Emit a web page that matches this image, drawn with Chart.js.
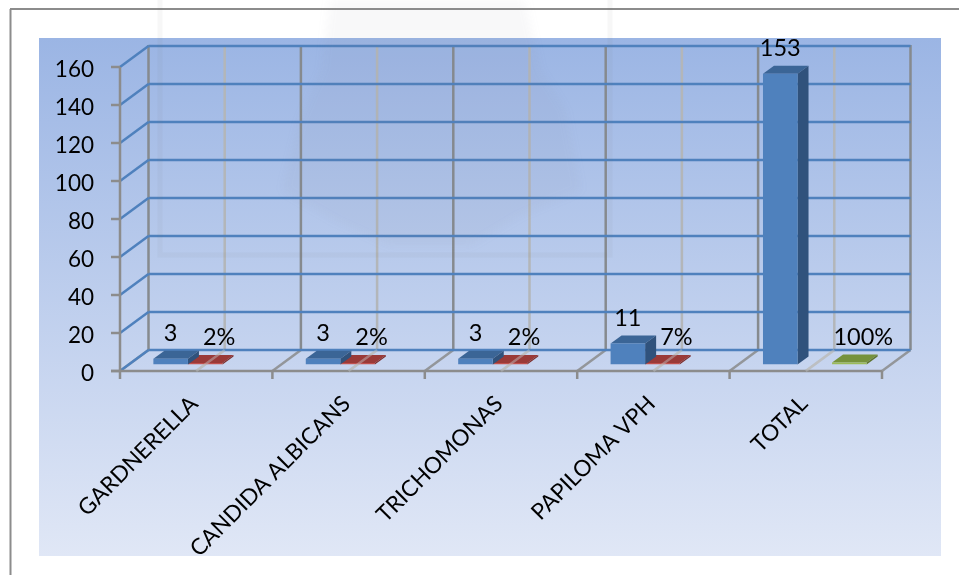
<!DOCTYPE html>
<html>
<head>
<meta charset="utf-8">
<title>Resultados</title>
<style>
  html, body { margin: 0; padding: 0; background: #fff; }
  canvas { display: block; }
</style>
<script src="https://cdn.jsdelivr.net/npm/chart.js@4"></script>
</head>
<body>
<canvas id="resultsChart" width="959" height="575"></canvas>
<script>
const categories = ["GARDNERELLA", "CANDIDA ALBICANS", "TRICHOMONAS", "PAPILOMA VPH", "TOTAL"];
const casos = [3, 3, 3, 11, 153];
const porcentaje = [0.02, 0.02, 0.02, 0.07, null];
const totalPorcentaje = [null, null, null, null, 1];

const FONT = "Lato, Carlito, sans-serif";
// bars stand on a plane between the front edge of the floor and the back wall
const FRONT = { x: -9, y: 6.5 };
const BACK = { x: 19.5, y: -14.5 };
const BAR_DEPTH = { x: 11, y: -8 };

function line(c, x1, y1, x2, y2, color, width) {
  c.beginPath();
  c.moveTo(x1, y1);
  c.lineTo(x2, y2);
  c.strokeStyle = color;
  c.lineWidth = width;
  c.stroke();
}

function poly(c, pts, color) {
  c.beginPath();
  pts.forEach((p, i) => i ? c.lineTo(p[0], p[1]) : c.moveTo(p[0], p[1]));
  c.closePath();
  c.fillStyle = color;
  c.fill();
}

// x pixel of the category borders (n + 1 of them) and of the centres
function categoryEdges(xs) {
  const step = xs.getPixelForValue(1) - xs.getPixelForValue(0);
  return categories.map((_, i) => xs.getPixelForValue(i) - step / 2)
    .concat(xs.getPixelForValue(categories.length - 1) + step / 2);
}

function midFloorLine(c, xs, ys, i, color) {
  const px = xs.getPixelForValue(i);
  const y0 = ys.getPixelForValue(0);
  line(c, px + FRONT.x, y0 + FRONT.y, px + BACK.x, y0 + BACK.y, color, 2.5);
}

const backgroundPlugin = {
  id: "panel",
  beforeDraw(chart) {
    const c = chart.ctx;
    const g = c.createLinearGradient(0, 38, 0, 556);
    g.addColorStop(0, "#9bb5e4");
    g.addColorStop(1, "#e0e7f6");
    c.save();
    c.fillStyle = "#fff";
    c.fillRect(0, 0, 959, 575);
    c.fillStyle = g;
    c.fillRect(39, 38, 902, 518);
    // outer frame, open at the right and bottom
    line(c, 10.5, 575, 10.5, 9, "#8c8c8c", 2);
    line(c, 10, 9, 959, 9, "#8c8c8c", 2);
    c.restore();
  }
};

const wallsPlugin = {
  id: "walls",
  beforeDatasetsDraw(chart) {
    const c = chart.ctx;
    const xs = chart.scales.x;
    const ys = chart.scales.y;
    const edges = categoryEdges(xs);
    const y0 = ys.getPixelForValue(0);
    const yTop = ys.getPixelForValue(ys.max);
    const xFirst = edges[0];
    const xLast = edges[edges.length - 1];
    c.save();

    // vertical wall lines, lighter ones through the category centres
    categories.forEach((_, i) => {
      const px = xs.getPixelForValue(i) + BACK.x;
      line(c, px, yTop + BACK.y, px, y0 + BACK.y, "#b3b6b9", 2.5);
      midFloorLine(c, xs, ys, i, "#b8bbbe");
    });
    edges.forEach(e => {
      line(c, e + BACK.x, yTop + BACK.y - 1, e + BACK.x, y0 + BACK.y, "#868a8e", 2.5);
      line(c, e + FRONT.x, y0 + FRONT.y, e + BACK.x, y0 + BACK.y, "#93969a", 2.5);
      line(c, e + FRONT.x, y0 + FRONT.y, e + FRONT.x, y0 + FRONT.y + 8, "#8c8c8c", 2.5);
    });

    // value grid on the side wall and the back wall
    ys.ticks.forEach(t => {
      const py = ys.getPixelForValue(t.value);
      line(c, xFirst + FRONT.x, py + FRONT.y, xFirst + BACK.x, py + BACK.y, "#4f81bd", 2.5);
      line(c, xFirst + BACK.x, py + BACK.y, xLast + BACK.x, py + BACK.y, "#4f81bd", 2.5);
      line(c, xFirst + FRONT.x - 9, py + FRONT.y, xFirst + FRONT.x, py + FRONT.y, "#8c8c8c", 2.5);
    });

    // front axes
    line(c, xFirst + FRONT.x, yTop + FRONT.y, xFirst + FRONT.x, y0 + FRONT.y, "#8c8c8c", 2.5);
    line(c, xFirst + FRONT.x - 9, y0 + FRONT.y, xLast + FRONT.x, y0 + FRONT.y, "#8c8c8c", 2.5);
    c.restore();
  },

  // top and side faces of each bar, the front face comes from the bar element
  beforeDatasetDraw(chart, args) {
    const c = chart.ctx;
    const ds = chart.data.datasets[args.index];
    c.save();
    args.meta.data.forEach((el, i) => {
      if (ds.data[i] == null) return;
      const { x, y, base, width } = el.getProps(["x", "y", "base", "width"], true);
      const l = x - width / 2;
      const r = x + width / 2;
      const d = BAR_DEPTH;
      poly(c, [[l, y], [l + d.x, y + d.y], [r + d.x, y + d.y], [r, y]], ds.topColor);
      poly(c, [[r, y], [r + d.x, y + d.y], [r + d.x, base + d.y], [r, base]], ds.sideColor);
    });
    c.restore();
  },

  afterDatasetsDraw(chart) {
    const c = chart.ctx;
    const xs = chart.scales.x;
    const ys = chart.scales.y;
    c.save();
    // floor lines stay visible through the flat bars
    c.globalAlpha = 0.45;
    categories.forEach((_, i) => midFloorLine(c, xs, ys, i, "#c4c6c8"));
    c.globalAlpha = 1;

    c.font = "23.5px " + FONT;
    c.fillStyle = "#000";
    c.textAlign = "center";
    c.textBaseline = "middle";
    chart.data.datasets.forEach((ds, di) => {
      chart.getDatasetMeta(di).data.forEach((el, i) => {
        const v = ds.data[i];
        if (v == null) return;
        const text = ds.isPercent ? Math.round(v * 100) + "%" : String(v);
        c.fillText(text, el.x + ds.labelDx, el.y - 25.5);
      });
    });
    c.restore();
  }
};

// faint letterhead crest sitting over the page
const crestPlugin = {
  id: "crest",
  afterDraw(chart) {
    const c = chart.ctx;
    c.save();
    c.filter = "blur(5px)";
    c.beginPath();
    c.moveTo(330, 0);
    c.lineTo(525, 0);
    c.lineTo(540, 70);
    c.lineTo(565, 110);
    c.lineTo(580, 190);
    c.lineTo(520, 215);
    c.lineTo(470, 245);
    c.lineTo(390, 245);
    c.lineTo(335, 220);
    c.lineTo(283, 190);
    c.lineTo(300, 120);
    c.lineTo(322, 70);
    c.closePath();
    c.fillStyle = "rgba(120, 135, 150, 0.055)";
    c.fill();
    c.filter = "none";
    c.strokeStyle = "rgba(120, 120, 120, 0.06)";
    c.lineWidth = 5;
    c.strokeRect(160, -10, 450, 265);
    c.restore();
  }
};

new Chart(document.getElementById("resultsChart"), {
  type: "bar",
  data: {
    labels: categories,
    datasets: [
      {
        label: "Casos", data: casos, backgroundColor: "#4f81bd",
        topColor: "#3b6596", sideColor: "#30527c", isPercent: false, labelDx: 0
      },
      {
        label: "%", data: porcentaje, backgroundColor: "#c0504d",
        topColor: "#9a3a38", sideColor: "#7d2e2c", isPercent: true, labelDx: 14
      },
      {
        label: "% total", data: totalPorcentaje, backgroundColor: "#9bbb59",
        topColor: "#76923c", sideColor: "#5f7530", isPercent: true, labelDx: 14
      }
    ]
  },
  options: {
    responsive: false,
    animation: false,
    devicePixelRatio: 1,
    minBarLength: 1.5,
    categoryPercentage: 0.68,
    barPercentage: 1,
    layout: { padding: { top: 60.5, right: 68 } },
    plugins: { legend: { display: false }, tooltip: { enabled: false } },
    scales: {
      x: {
        grid: { display: false },
        border: { display: false },
        afterFit(s) { s.height = 210.5; },
        ticks: {
          autoSkip: false,
          minRotation: 45,
          maxRotation: 45,
          padding: 18,
          labelOffset: -11,
          color: "#000",
          font: { family: FONT, size: 22.5 }
        }
      },
      y: {
        min: 0,
        max: 160,
        grid: { display: false },
        border: { display: false },
        afterFit(s) { s.width = 129; },
        ticks: {
          stepSize: 20,
          padding: 27,
          labelOffset: 9,
          color: "#000",
          font: { family: FONT, size: 22.5 }
        }
      }
    }
  },
  plugins: [backgroundPlugin, wallsPlugin, crestPlugin]
});
</script>
</body>
</html>
